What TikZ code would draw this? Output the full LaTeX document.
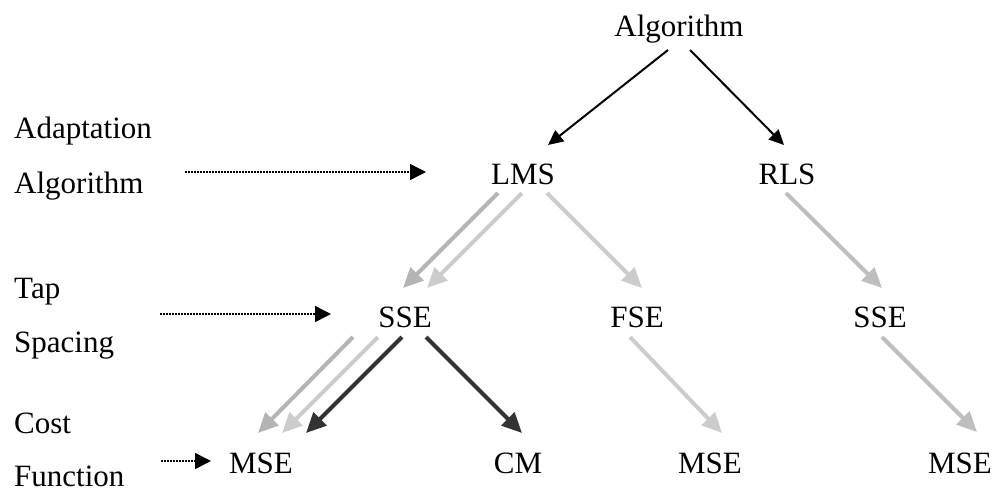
\documentclass[tikz,border=0pt]{standalone}
\usepackage{fontspec}
\setmainfont{Liberation Serif}
\usetikzlibrary{arrows.meta}
\definecolor{gA}{HTML}{B4B4B4}
\definecolor{gB}{HTML}{CCCCCC}
\definecolor{gC}{HTML}{BEBEBE}
\definecolor{gD}{HTML}{333333}
\begin{document}
\begin{tikzpicture}[x=1pt,y=-1pt,
  lbl/.style={inner sep=0pt,anchor=base,font=\fontsize{31}{37}\selectfont},
  side/.style={inner sep=0pt,anchor=base west,font=\fontsize{31}{37}\selectfont},
  blk/.style={line width=2pt,-{Triangle[length=15pt,width=14pt]}},
  thick arrow/.style={line width=4pt,-{Triangle[length=20pt,width=18pt]}},
  dots/.style={line width=1.5pt,dash pattern=on 1.5pt off 1.5pt,-{Triangle[length=16pt,width=16pt]}}]
\useasboundingbox (0,0) rectangle (994,491);
% tree nodes
\node[lbl] (alg) at (679,36) {Algorithm};
\node[lbl] (lms) at (523,184) {LMS};
\node[lbl] (rls) at (787,184) {RLS};
\node[lbl] (sse) at (405,327) {SSE};
\node[lbl] (fse) at (637,327) {FSE};
\node[lbl] (sser) at (880,327) {SSE};
\node[lbl] (mse1) at (261,473) {MSE};
\node[lbl] (cm) at (518,473) {CM};
\node[lbl] (mse2) at (710,473) {MSE};
\node[lbl] (mse3) at (960,473) {MSE};
% side labels
\node[side] (l1) at (14,138) {Adaptation};
\node[side] (l2) at (14,193) {Algorithm};
\node[side] (l3) at (14,298) {Tap};
\node[side] (l4) at (14,352) {Spacing};
\node[side] (l5) at (14,433) {Cost};
\node[side] (l6) at (14,486) {Function};
% dotted pointers
\coordinate (d1s) at (185,172); \coordinate (d1e) at (426,172);
\coordinate (d2s) at (160,314); \coordinate (d2e) at (331,314);
\coordinate (d3s) at (161,461); \coordinate (d3e) at (211,461);
\draw[dots] (d1s) -- (d1e);
\draw[dots] (d2s) -- (d2e);
\draw[dots] (d3s) -- (d3e);
% black arrows
\draw[blk] ([shift={(-11,14)}]alg.base) -- ([shift={(25,-39)}]lms.base);
\draw[blk] ([shift={(11,14)}]alg.base) -- ([shift={(-3,-39)}]rls.base);
% LMS / RLS level
\draw[thick arrow,gA] ([shift={(-25,9)}]lms.base) -- ([shift={(-2,-39)}]sse.base);
\draw[thick arrow,gB] ([shift={(-1,9)}]lms.base) -- ([shift={(22,-39)}]sse.base);
\draw[thick arrow,gB] ([shift={(24,9)}]lms.base) -- ([shift={(5,-39)}]fse.base);
\draw[thick arrow,gC] ([shift={(-1,9)}]rls.base) -- ([shift={(2,-39)}]sser.base);
% SSE level
\draw[thick arrow,gA] ([shift={(-52,10)}]sse.base) -- ([shift={(-3,-40)}]mse1.base);
\draw[thick arrow,gB] ([shift={(-27,10)}]sse.base) -- ([shift={(21,-40)}]mse1.base);
\draw[thick arrow,gD] ([shift={(-3,10)}]sse.base) -- ([shift={(45,-40)}]mse1.base);
\draw[thick arrow,gD] ([shift={(21,10)}]sse.base) -- ([shift={(4,-40)}]cm.base);
\draw[thick arrow,gB] ([shift={(-7,10)}]fse.base) -- ([shift={(12,-40)}]mse2.base);
\draw[thick arrow,gC] ([shift={(2,10)}]sser.base) -- ([shift={(17,-41)}]mse3.base);
\end{tikzpicture}
\end{document}
